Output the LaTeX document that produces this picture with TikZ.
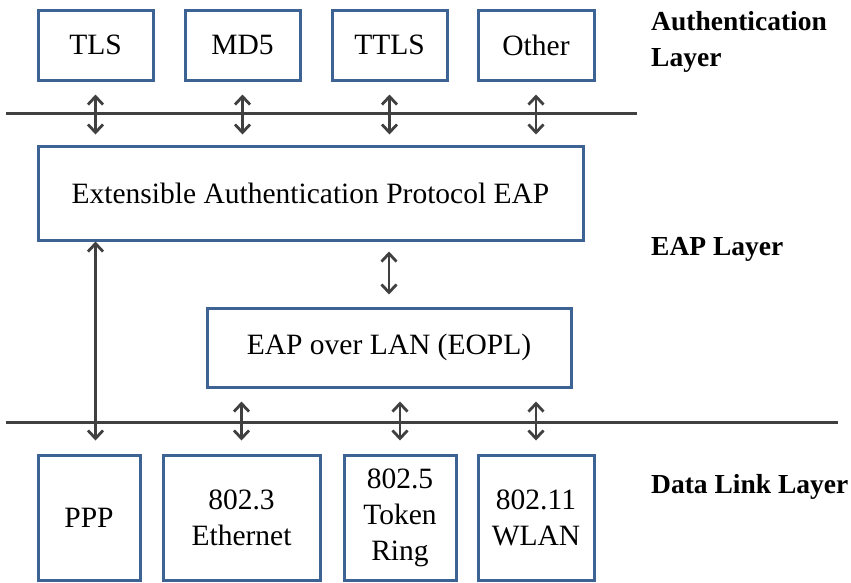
\documentclass[tikz,border=0pt]{standalone}
\usepackage{fontspec}
\setmainfont{LiberationSerif}[Extension=.ttf, UprightFont=*-Regular, BoldFont=*-Bold]
\usetikzlibrary{arrows.meta,positioning}

\definecolor{boxblue}{HTML}{3D6294}
\definecolor{linegray}{HTML}{404040}

\tikzset{
	layerbox/.style={draw=boxblue, line width=3pt, fill=white, inner sep=0pt,
		align=center, font=\fontsize{29.5}{36}\selectfont},
	bus/.style={draw=linegray, line width=3pt},
	link/.style={draw=linegray, line width=2.8pt,
		{Straight Barb[length=8pt,width=15pt]}-{Straight Barb[length=8pt,width=15pt]}},
	layerlabel/.style={font=\bfseries\fontsize{27.5}{36}\selectfont, align=left, inner sep=0pt}
}

\begin{document}
\begin{tikzpicture}[x=1pt, y=-1pt]

	\useasboundingbox (0,0) rectangle (851,582);

	% authentication layer
	\node[layerbox, minimum width=115pt, minimum height=70pt] (tls) at (95.5,45) {TLS};
	\node[layerbox, minimum width=115pt, minimum height=70pt] (md5) at (242.5,45) {MD5};
	\node[layerbox, minimum width=115pt, minimum height=70pt] (ttls) at (389.5,45) {TTLS};
	\node[layerbox, minimum width=116pt, minimum height=70pt] (other) at (536,45) {Other};

	% eap layer
	\node[layerbox, minimum width=545pt, minimum height=94pt] (eap) at (310.5,193) {Extensible Authentication Protocol EAP};
	\node[layerbox, minimum width=364pt, minimum height=79pt] (eopl) at (389,347.5) {EAP over LAN (EOPL)};

	% data link layer
	\node[layerbox, minimum width=102pt, minimum height=125pt] (ppp) at (89,517.5) {PPP};
	\node[layerbox, minimum width=157pt, minimum height=125pt] (eth) at (241.5,517.5) {802.3\\Ethernet};
	\node[layerbox, minimum width=112pt, minimum height=125pt] (tok) at (400,517.5) {802.5\\Token\\Ring};
	\node[layerbox, minimum width=116pt, minimum height=125pt] (wlan) at (536,517.5) {802.11\\WLAN};

	% layer boundaries
	\coordinate (topL) at (6,113);
	\coordinate (topR) at (637,113);
	\coordinate (botL) at (6,422);
	\coordinate (botR) at (838,422);
	\draw[bus] (topL) -- (topR);
	\draw[bus] (botL) -- (botR);

	\foreach \m in {tls,md5,ttls,other}
{
	\draw[link, shorten <=13pt, shorten >=10pt] (\m.south) -- (\m.south |- eap.north);
}

	\draw[link, shorten <=10pt, shorten >=12pt] (eap.south -| eopl.north) -- (eopl.north);
	\draw[link, shorten >=13pt] (tls.south |- eap.south) -- (tls.south |- ppp.north);

	\foreach \m in {eth,tok,wlan}
{
	\draw[link, shorten <=13pt, shorten >=13pt] (eopl.south -| \m.north) -- (\m.north);
}

	% layer names
	\node[layerlabel, anchor=north west] (authname) at (651,11) {Authentication\\Layer};
	\node[layerlabel, anchor=west] (eapname) at (651,249) {EAP Layer};
	\node[layerlabel, anchor=west] (linkname) at (651,487) {Data Link Layer};

\end{tikzpicture}
\end{document}
